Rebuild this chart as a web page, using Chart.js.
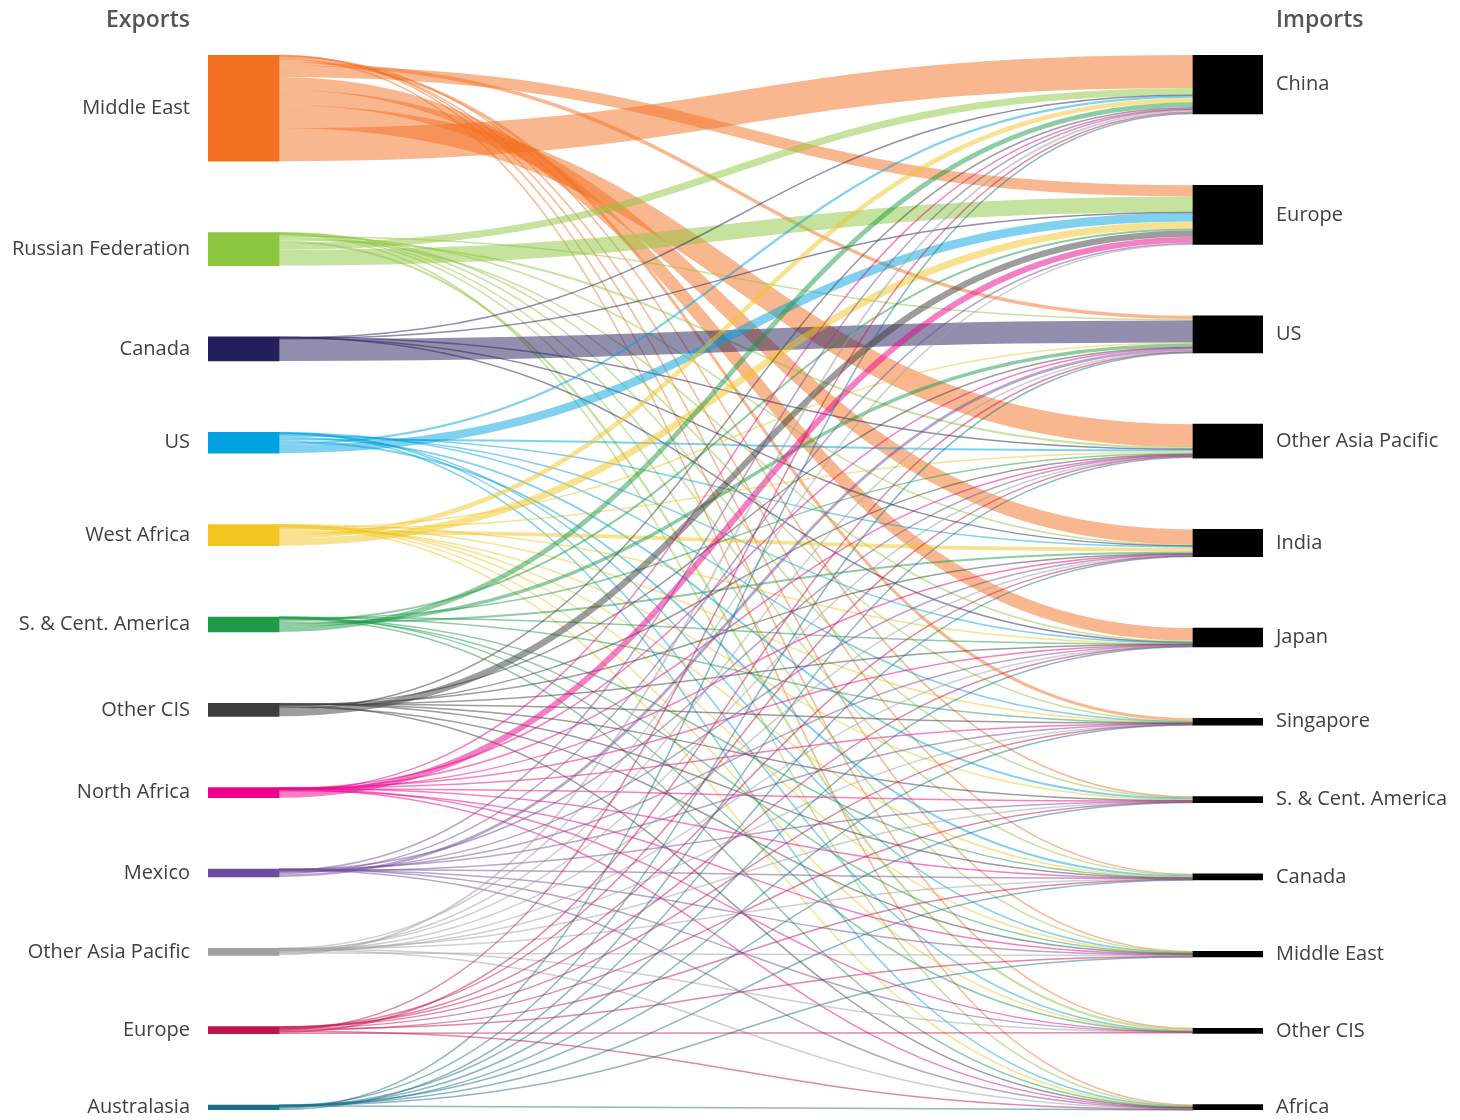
<!DOCTYPE html>
<html>
<head>
<meta charset="utf-8">
<script src="https://cdn.jsdelivr.net/npm/chart.js@4/dist/chart.umd.min.js"></script>
<style>html,body{margin:0;background:#fff}</style>
</head>
<body>
<canvas id="flows" width="1460" height="1120"></canvas>
<script>
const exporters=["Middle East","Russian Federation","Canada","US","West Africa","S. & Cent. America","Other CIS","North Africa","Mexico","Other Asia Pacific","Europe","Australasia"];
const importers=["China","Europe","US","Other Asia Pacific","India","Japan","Singapore","S. & Cent. America","Canada","Middle East","Other CIS","Africa"];
const exportColors=["#F37021","#8DC63F","#231F5B","#00A3E0","#F2C61F","#1E9A48","#3C3C3C","#EC008C","#6F4C9B","#A0A0A0","#C5114B","#1B6F8A"];
const fromMiddleEast=[33,11.3,3.5,23,15.3,12.8,3,1,1,0.6,0.5,1];
const fromRussia=[7,15.7,1.3,2,1,1.5,0.5,0.3,0.5,0.5,2.2,0.5];
const fromCanada=[0.5,0.5,22,0.3,0.4,0.3,0,0,0,0,0,0];
const fromUS=[2.2,8.5,0,2,1.5,1,0.5,1.9,2,0.6,0.3,0.5];
const fromWestAfrica=[4.5,7,1,1.5,3.8,0.3,0.5,0.8,0.5,0.3,0.3,0.5];
const fromSCAmerica=[4.8,2,3.5,1,2,0.3,0.3,0,0.3,0.3,0.2,0.3];
const fromOtherCIS=[1.5,6.3,0.8,1,0.5,0.5,0.4,0.3,0.2,0.9,0,0.6];
const fromNorthAfrica=[1,6,0.3,0.4,0.4,0.2,0.2,0.3,0.2,0.5,0.2,0.3];
const fromMexico=[0.5,1.5,2.8,0.3,1,0.5,0.2,0.5,0.2,0.2,0.1,0.2];
const fromOtherAsiaPacific=[2,0.2,0.5,0.4,0.5,0.8,0.6,0.2,0.2,1,0.2,0.4];
const fromEurope=[0.7,0,1,0.5,0.5,0.3,0.3,0.5,0.8,0.6,1,0.8];
const fromAustralasia=[1.2,0,0.3,1.5,0.3,0.4,0.5,0.2,0.2,0.2,0,0.2];
const flows=[fromMiddleEast,fromRussia,fromCanada,fromUS,fromWestAfrica,fromSCAmerica,fromOtherCIS,fromNorthAfrica,fromMexico,fromOtherAsiaPacific,fromEurope,fromAustralasia];

const pad=71.2;   // gap between nodes, value units
const sum=a=>a.reduce((s,v)=>s+v,0);
const outTotals=flows.map(sum);
const inTotals=importers.map((_,j)=>sum(flows.map(r=>r[j])));
const yMax=sum(outTotals)+pad*(exporters.length-1);
const stack=t=>{let y=0;return t.map(v=>{const s=y;y+=v+pad;return s})};
const outStart=stack(outTotals),inStart=stack(inTotals);
const outCenters=outStart.map((s,k)=>s+outTotals[k]/2),inCenters=inStart.map((s,k)=>s+inTotals[k]/2);

// link ends: small flows on top at the exporter, exporter order at the importer
const links=[];
flows.forEach((row,i)=>row.forEach((v,j)=>{if(v>0)links.push({i,j,v})}));
exporters.forEach((_,i)=>{let y=outStart[i];links.filter(l=>l.i===i).sort((a,b)=>a.v-b.v||a.j-b.j).forEach(l=>{l.y0=y+l.v/2;y+=l.v})});
importers.forEach((_,j)=>{let y=inStart[j];links.filter(l=>l.j===j).forEach(l=>{l.y1=y+l.v/2;y+=l.v})});

const rgba=(h,a)=>`rgba(${parseInt(h.slice(1,3),16)},${parseInt(h.slice(3,5),16)},${parseInt(h.slice(5,7),16)},${a})`;
const font="'Open Sans', sans-serif";

const linkPlugin={id:"links",beforeDatasetsDraw(chart){
  const {ctx}=chart,ys=chart.scales.y,m0=chart.getDatasetMeta(0),m1=chart.getDatasetMeta(1);
  ctx.save();ctx.lineCap="butt";
  links.forEach(l=>{
    const b0=m0.data[l.i],b1=m1.data[l.j];
    const x0=b0.x+b0.width/2,x1=b1.x-b1.width/2,xm=(x0+x1)/2;
    const y0=ys.getPixelForValue(l.y0),y1=ys.getPixelForValue(l.y1);
    ctx.beginPath();ctx.moveTo(x0,y0);ctx.bezierCurveTo(xm,y0,xm,y1,x1,y1);
    ctx.lineWidth=Math.max(Math.abs(ys.getPixelForValue(l.v)-ys.getPixelForValue(0)),1.5);
    ctx.strokeStyle=rgba(exportColors[l.i],0.5);ctx.stroke();
  });
  ctx.restore();
}};
const headPlugin={id:"heads",afterDraw(chart){
  const {ctx,chartArea:a}=chart;
  ctx.save();ctx.font="600 23px "+font;ctx.fillStyle="#555";ctx.textBaseline="middle";
  ctx.textAlign="right";ctx.fillText("Exports",a.left-18,20);
  ctx.textAlign="left";ctx.fillText("Imports",a.right+13,20);
  ctx.restore();
}};

const fitAxis=w=>s=>{s.width=w;s.paddingTop=0;s.paddingBottom=0};
const tickOpts=names=>({autoSkip:false,color:"#404040",font:{family:font,size:20},callback:(v,k)=>names[k]});
new Chart("flows",{type:"bar",
  data:{datasets:[
    {label:"Exports",data:outStart.map((s,k)=>({x:35.5,y:[s,s+outTotals[k]]})),backgroundColor:exportColors,barThickness:71,grouped:false,yAxisID:"y"},
    {label:"Imports",data:inStart.map((s,k)=>({x:1020,y:[s,s+inTotals[k]]})),backgroundColor:"#000",barThickness:70,grouped:false,yAxisID:"y2"}
  ]},
  options:{responsive:false,animation:false,events:[],layout:{padding:{top:55,bottom:10,left:0,right:0}},
    plugins:{legend:{display:false},tooltip:{enabled:false}},
    scales:{
      x:{type:"linear",min:0,max:1055,offset:false,display:false},
      y:{position:"left",reverse:true,min:0,max:yMax,grid:{display:false,drawTicks:false},border:{display:false},
        afterBuildTicks:s=>{s.ticks=outCenters.map(v=>({value:v}))},afterFit:fitAxis(208),
        ticks:{...tickOpts(exporters),padding:18}},
      y2:{position:"right",reverse:true,min:0,max:yMax,grid:{display:false,drawTicks:false},border:{display:false},
        afterBuildTicks:s=>{s.ticks=inCenters.map(v=>({value:v}))},afterFit:fitAxis(197),
        ticks:{...tickOpts(importers),padding:13}}
    }},
  plugins:[linkPlugin,headPlugin]});
</script>
</body>
</html>
